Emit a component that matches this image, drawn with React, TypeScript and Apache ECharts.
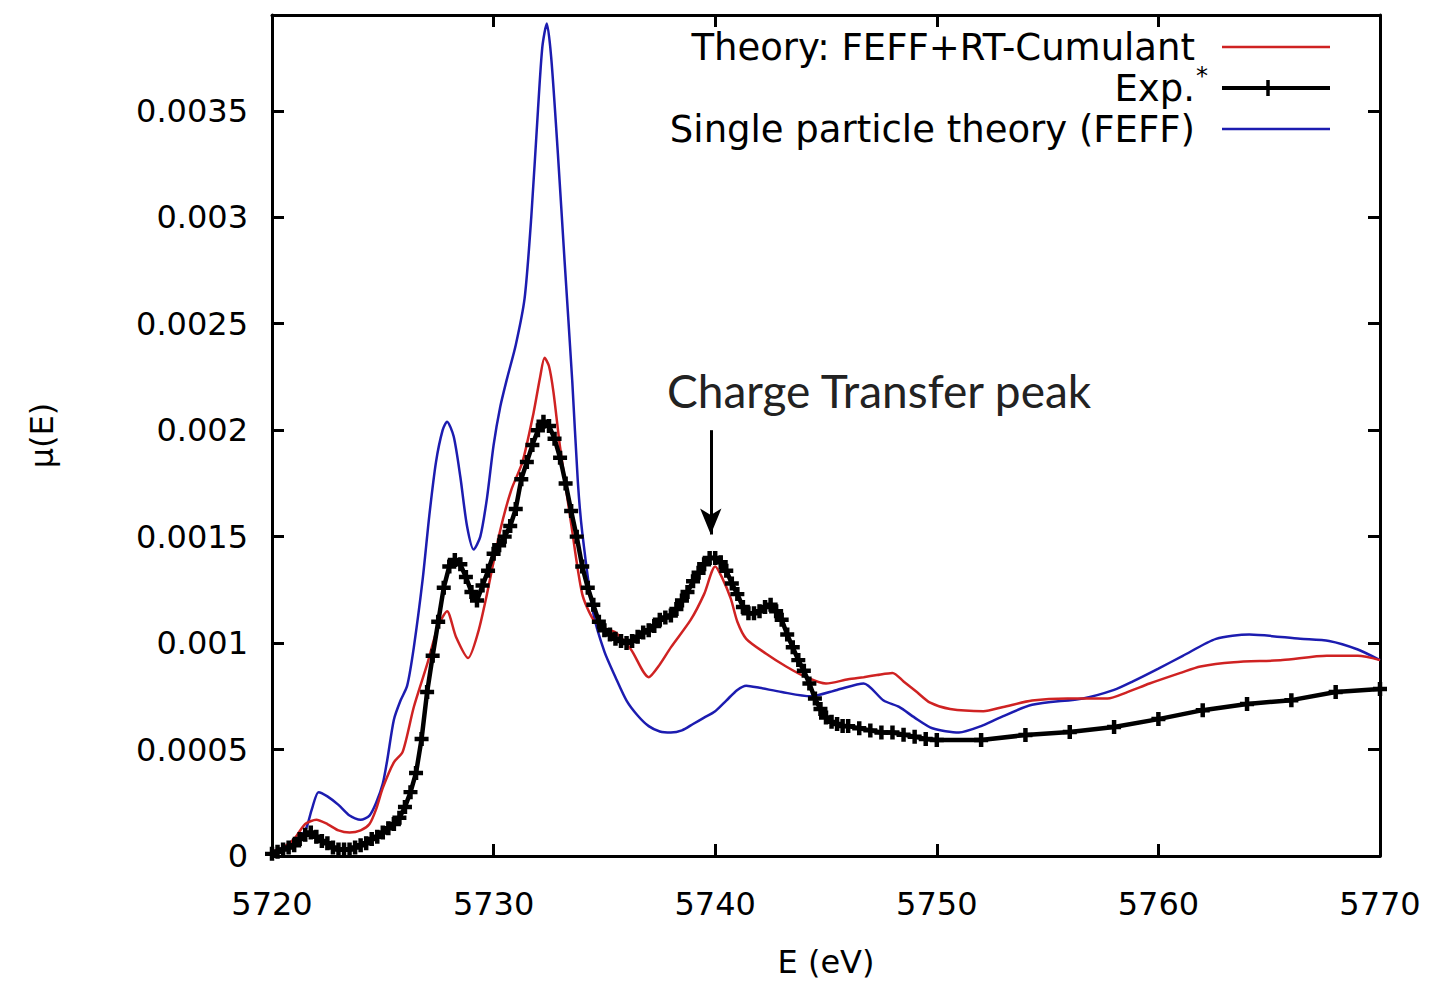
import React, { useEffect, useRef } from "react";
import * as echarts from "echarts";

// Single particle theory (FEFF) — blue
const blueE = [5720.0, 5720.5, 5721.0, 5721.5, 5721.8, 5722.1, 5722.5, 5723.0, 5723.5, 5724.0, 5724.4, 5724.7, 5725.0, 5725.2, 5725.5, 5725.8, 5726.1, 5726.4, 5726.8, 5727.1, 5727.4, 5727.7, 5727.9, 5728.2, 5728.5, 5728.8, 5729.1, 5729.4, 5729.7, 5730.0, 5730.3, 5730.6, 5731.0, 5731.4, 5731.7, 5732.0, 5732.2, 5732.4, 5732.6, 5732.9, 5733.2, 5733.55, 5733.8, 5734.0, 5734.5, 5735.0, 5735.5, 5736.0, 5736.5, 5737.0, 5737.5, 5738.0, 5738.5, 5739.0, 5739.5, 5740.0, 5740.5, 5741.0, 5741.4, 5742.0, 5743.0, 5744.3, 5745.5, 5746.7, 5747.6, 5748.3, 5749.0, 5749.8, 5751.0, 5752.0, 5752.85, 5754.3, 5756.6, 5758.0, 5758.85, 5760.0, 5761.1, 5762.6, 5764.1, 5766.4, 5767.7, 5769.0, 5770.0];
const blueMu = [0.00002, 0.00004, 0.00007, 0.00012, 0.00022, 0.0003, 0.00028, 0.00024, 0.00019, 0.00017, 0.00019, 0.00025, 0.00034, 0.00045, 0.00064, 0.00073, 0.0008, 0.00098, 0.0013, 0.0016, 0.00185, 0.002, 0.00204, 0.00197, 0.00178, 0.00155, 0.00144, 0.0015, 0.00168, 0.00193, 0.00211, 0.00224, 0.0024, 0.00262, 0.003, 0.0035, 0.0038, 0.00391, 0.00375, 0.0033, 0.0028, 0.00223, 0.00176, 0.00152, 0.00114, 0.00096, 0.00084, 0.00073, 0.00066, 0.00061, 0.000585, 0.00058, 0.00059, 0.00062, 0.00065, 0.00068, 0.00073, 0.00078, 0.0008, 0.00079, 0.00077, 0.00075, 0.00078, 0.00081, 0.00073, 0.0007, 0.00065, 0.0006, 0.00058, 0.00061, 0.00065, 0.00071, 0.00074, 0.00078, 0.00082, 0.00088, 0.00094, 0.00102, 0.00104, 0.00102, 0.00101, 0.00097, 0.00092];

// Theory: FEFF+RT-Cumulant — red
const redE = [5720.0, 5720.5, 5721.0, 5721.5, 5722.0, 5722.5, 5723.0, 5723.5, 5724.0, 5724.4, 5724.7, 5725.0, 5725.5, 5725.9, 5726.4, 5727.0, 5727.5, 5727.9, 5728.3, 5728.85, 5729.3, 5729.7, 5730.3, 5730.8, 5731.3, 5731.8, 5732.1, 5732.3, 5732.5, 5732.7, 5733.0, 5733.5, 5734.0, 5734.5, 5735.0, 5735.5, 5736.2, 5737.0, 5737.5, 5738.0, 5738.9, 5739.5, 5740.0, 5740.3, 5740.7, 5741.0, 5741.4, 5742.3, 5743.2, 5744.1, 5745.0, 5746.0, 5746.7, 5747.3, 5748.0, 5748.5, 5749.1, 5749.7, 5750.6, 5752.1, 5753.0, 5754.3, 5755.9, 5757.7, 5758.6, 5759.6, 5761.0, 5761.9, 5763.4, 5765.6, 5767.6, 5769.0, 5770.0];
const redMu = [0.00002, 0.00004, 0.00008, 0.00015, 0.00017, 0.00015, 0.00012, 0.00011, 0.00012, 0.00015, 0.00022, 0.00032, 0.00044, 0.00049, 0.0007, 0.0009, 0.00108, 0.00115, 0.00103, 0.00093, 0.00105, 0.00123, 0.00153, 0.00172, 0.00185, 0.00208, 0.00225, 0.00234, 0.0023, 0.00218, 0.00192, 0.00156, 0.00123, 0.00111, 0.00107, 0.00105, 0.00097, 0.00084, 0.0009, 0.00098, 0.00111, 0.00123, 0.00136, 0.00131, 0.00121, 0.0011, 0.00102, 0.00095, 0.00089, 0.00084, 0.00081, 0.00083, 0.00084, 0.00085, 0.00086, 0.00082, 0.00077, 0.00072, 0.00069, 0.00068, 0.0007, 0.00073, 0.00074, 0.00074, 0.00077, 0.00081, 0.00086, 0.00089, 0.00091, 0.00092, 0.00094, 0.00094, 0.00092];

// Exp.* — black with markers
const expE = [5720.0, 5720.25, 5720.5, 5720.75, 5721.0, 5721.25, 5721.5, 5721.75, 5722.0, 5722.25, 5722.5, 5722.75, 5723.0, 5723.25, 5723.5, 5723.75, 5724.0, 5724.25, 5724.5, 5724.75, 5725.0, 5725.25, 5725.5, 5725.75, 5726.0, 5726.25, 5726.5, 5726.75, 5727.0, 5727.25, 5727.5, 5727.75, 5728.0, 5728.25, 5728.5, 5728.75, 5729.0, 5729.25, 5729.5, 5729.75, 5730.0, 5730.25, 5730.5, 5730.75, 5731.0, 5731.25, 5731.5, 5731.75, 5732.0, 5732.25, 5732.5, 5732.75, 5733.0, 5733.25, 5733.5, 5733.75, 5734.0, 5734.25, 5734.5, 5734.75, 5735.0, 5735.25, 5735.5, 5735.75, 5736.0, 5736.25, 5736.5, 5736.75, 5737.0, 5737.25, 5737.5, 5737.75, 5738.0, 5738.25, 5738.5, 5738.75, 5739.0, 5739.25, 5739.5, 5739.75, 5740.0, 5740.25, 5740.5, 5740.75, 5741.0, 5741.25, 5741.5, 5741.75, 5742.0, 5742.25, 5742.5, 5742.75, 5743.0, 5743.25, 5743.5, 5743.75, 5744.0, 5744.25, 5744.5, 5744.75, 5745.0, 5745.25, 5745.5, 5745.75, 5746.0, 5746.5, 5747.0, 5747.5, 5748.0, 5748.5, 5749.0, 5749.5, 5750.0, 5752.0, 5754.0, 5756.0, 5758.0, 5760.0, 5762.0, 5764.0, 5766.0, 5768.0, 5770.0];
const expMu = [0.00001, 0.00002, 0.00003, 0.00004, 0.00005, 0.00008, 0.0001, 0.00011, 0.00009, 0.00007, 0.00006, 0.00004, 0.00003, 0.00003, 0.00003, 0.00004, 0.00005, 0.00006, 0.00008, 0.00009, 0.00011, 0.00013, 0.00015, 0.00018, 0.00023, 0.0003, 0.00039, 0.00055, 0.00077, 0.00094, 0.0011, 0.00126, 0.00136, 0.00139, 0.00137, 0.00131, 0.00124, 0.0012, 0.00127, 0.00134, 0.00142, 0.00146, 0.0015, 0.00155, 0.00163, 0.00177, 0.00185, 0.00193, 0.002, 0.00204, 0.00202, 0.00196, 0.00187, 0.00175, 0.00162, 0.0015, 0.00136, 0.00126, 0.00118, 0.0011, 0.00106, 0.00104, 0.00102, 0.00101, 0.001, 0.00101, 0.00103, 0.00105, 0.00106, 0.00108, 0.00111, 0.00112, 0.00113, 0.00116, 0.0012, 0.00124, 0.00129, 0.00133, 0.00137, 0.0014, 0.0014, 0.00138, 0.00134, 0.00128, 0.00123, 0.00117, 0.00114, 0.00114, 0.00115, 0.00117, 0.00118, 0.00115, 0.00111, 0.00104, 0.00098, 0.00092, 0.00087, 0.00081, 0.00074, 0.00069, 0.00065, 0.00063, 0.00062, 0.00061, 0.00061, 0.0006, 0.00059, 0.00058, 0.00058, 0.00057, 0.00056, 0.00055, 0.000545, 0.000545, 0.000568, 0.000582, 0.000606, 0.000643, 0.000685, 0.000714, 0.000732, 0.00077, 0.000784];

const seriesNames = ["Theory: FEFF+RT-Cumulant", "Exp.", "Single particle theory (FEFF)"];
const annotationText = "Charge Transfer peak";
const arrowE = 5739.8;
const arrowFrom = 0.002;
const arrowTo = 0.00151;

const zip = (xs: number[], ys: number[]) => xs.map((x, i) => [x, ys[i]]);

const FONT = "DejaVu Sans";
const RED = "#cf2222";
const BLUE = "#1c1cb0";

export default function App() {
  const ref = useRef<HTMLDivElement>(null);
  useEffect(() => {
    if (!ref.current) return;
    const chart = echarts.init(ref.current, undefined, { renderer: "svg" });
    const fmt = (v: number) => String(parseFloat(v.toPrecision(6)));
    const baseX = {
      type: "value" as const,
      min: 5720,
      max: 5770,
      interval: 10,
      splitLine: { show: false },
      axisLine: { show: true, onZero: false, lineStyle: { color: "#000", width: 3 } },
      axisTick: { show: true, inside: true, length: 12, lineStyle: { color: "#000", width: 3 } },
    };
    const baseY = {
      type: "value" as const,
      min: 0,
      max: 0.00395,
      interval: 0.0005,
      splitLine: { show: false },
      axisLine: { show: true, onZero: false, lineStyle: { color: "#000", width: 3 } },
      axisTick: { show: true, inside: true, length: 12, lineStyle: { color: "#000", width: 3 } },
    };
    const legendY = [47, 88, 129];
    const textStyle = (text: string, x: number, y: number, size: number) => ({
      type: "text",
      x,
      y,
      style: {
        text,
        fontSize: size,
        fontFamily: FONT,
        fill: "#000",
        align: "right",
        textAlign: "right",
        verticalAlign: "middle",
        textVerticalAlign: "middle",
      },
    });
    chart.setOption({
      animation: false,
      backgroundColor: "#fff",
      grid: { left: 272, right: 52, top: 15, bottom: 127, containLabel: false },
      xAxis: [
        {
          ...baseX,
          position: "bottom",
          name: "E (eV)",
          nameLocation: "middle",
          nameGap: 90,
          nameTextStyle: { fontFamily: FONT, fontSize: 32, color: "#000" },
          axisLabel: { fontFamily: FONT, fontSize: 32, color: "#000", margin: 32, formatter: (v: number) => String(v) },
        },
        { ...baseX, position: "top", axisLabel: { show: false } },
      ],
      yAxis: [
        {
          ...baseY,
          position: "left",
          name: "μ(E)",
          nameLocation: "middle",
          nameGap: 214,
          nameTextStyle: { fontFamily: FONT, fontSize: 32, color: "#000" },
          axisLabel: {
            fontFamily: FONT,
            fontSize: 32,
            color: "#000",
            margin: 24,
            showMaxLabel: false,
            formatter: fmt,
          },
        },
        { ...baseY, position: "right", axisLabel: { show: false } },
      ],
      series: [
        {
          name: seriesNames[0],
          type: "line",
          data: zip(redE, redMu),
          showSymbol: false,
          smooth: 0.25,
          lineStyle: { color: RED, width: 2.5 },
          itemStyle: { color: RED },
          z: 3,
        },
        {
          name: seriesNames[1],
          type: "line",
          data: zip(expE, expMu),
          symbol: "path://M3.4,0H6.6V3.4H10V6.6H6.6V10H3.4V6.6H0V3.4H3.4Z",
          symbolSize: 14,
          showSymbol: true,
          lineStyle: { color: "#000", width: 4.5 },
          itemStyle: { color: "#000" },
          z: 4,
          markLine: {
            silent: true,
            symbol: ["none", "arrow"],
            symbolSize: [16, 26],
            label: { show: false },
            lineStyle: { color: "#000", width: 3, type: "solid" },
            data: [[{ coord: [arrowE, arrowFrom] }, { coord: [arrowE, arrowTo] }]],
          },
        },
        {
          name: seriesNames[2],
          type: "line",
          data: zip(blueE, blueMu),
          showSymbol: false,
          smooth: 0.25,
          lineStyle: { color: BLUE, width: 2.5 },
          itemStyle: { color: BLUE },
          z: 2,
        },
      ],
      graphic: [
        textStyle(seriesNames[0], 1195, legendY[0], 37),
        textStyle(seriesNames[1], 1195, legendY[1], 37),
        textStyle("*", 1208, legendY[1] - 12, 24),
        textStyle(seriesNames[2], 1195, legendY[2], 37),
        { type: "line", shape: { x1: 1222, y1: legendY[0], x2: 1330, y2: legendY[0] }, style: { stroke: RED, lineWidth: 2.5 } },
        { type: "line", shape: { x1: 1222, y1: legendY[1], x2: 1330, y2: legendY[1] }, style: { stroke: "#000", lineWidth: 4 } },
        { type: "line", shape: { x1: 1268, y1: legendY[1] - 8, x2: 1268, y2: legendY[1] + 8 }, style: { stroke: "#000", lineWidth: 3.5 } },
        { type: "line", shape: { x1: 1222, y1: legendY[2], x2: 1330, y2: legendY[2] }, style: { stroke: BLUE, lineWidth: 2.5 } },
        {
          type: "text",
          x: 667,
          y: 390,
          style: {
            text: annotationText,
            fontSize: 46,
            fontFamily: "Lato",
            fill: "#222",
            align: "left",
            textAlign: "left",
            verticalAlign: "middle",
            textVerticalAlign: "middle",
          },
        },
      ],
    });
    return () => chart.dispose();
  }, []);
  return (
    <div
      ref={ref}
      style={{ position: "fixed", left: 0, top: 0, width: 1432, height: 983, background: "#fff" }}
    />
  );
}
